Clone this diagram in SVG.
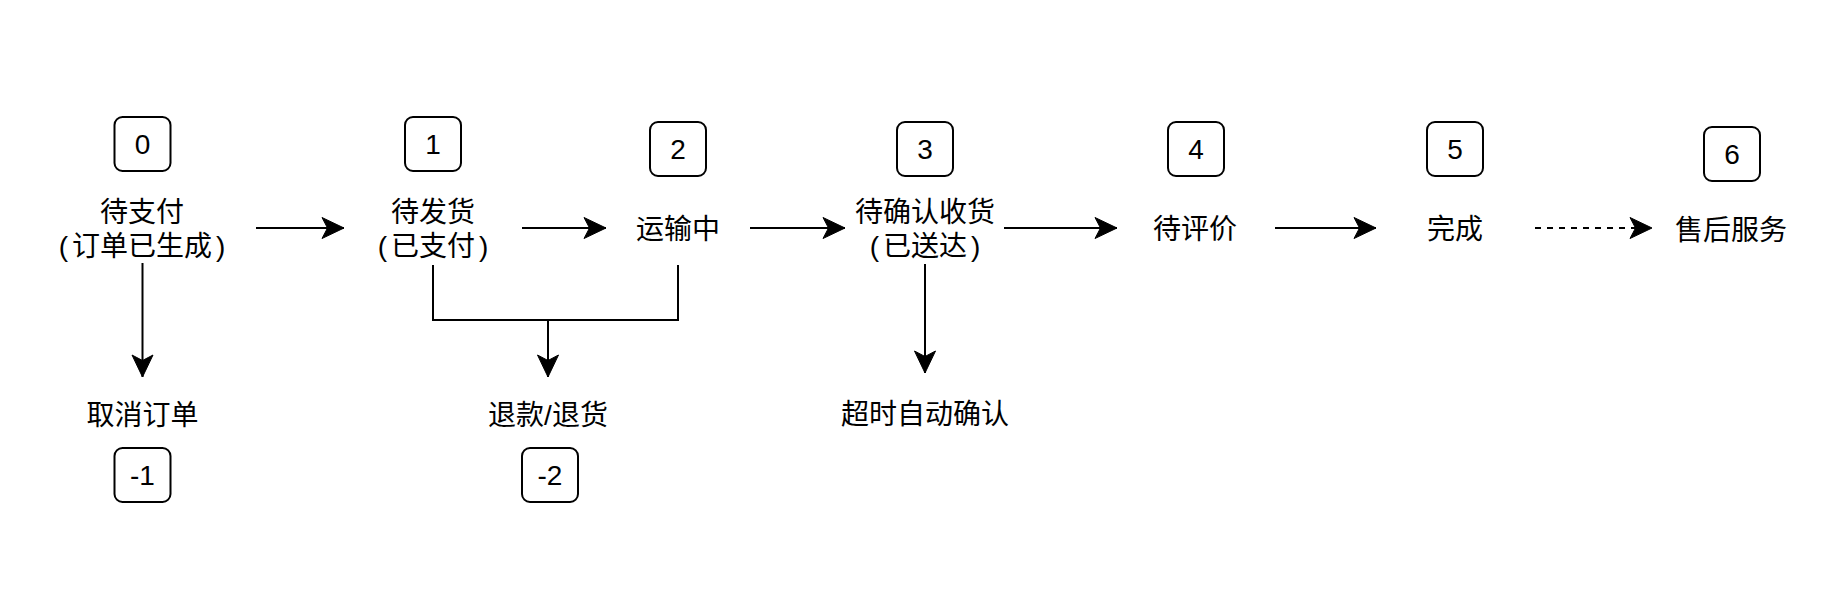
<svg xmlns="http://www.w3.org/2000/svg" width="1832" height="600" viewBox="0 0 1832 600">
<style>
.bg{fill:#fff}
.box{fill:#fff;stroke:#000;stroke-width:2}
.num{font-family:"Liberation Sans","Noto Sans CJK SC",sans-serif;font-size:28px;fill:#000;text-anchor:middle}
.lbl{font-family:"Liberation Sans","Noto Sans CJK SC",sans-serif;font-size:28px;fill:#000;text-anchor:middle}
.edge{fill:none;stroke:#000;stroke-width:2}
.dash{stroke-dasharray:6 6}
</style>
<defs>
<marker id="arr" markerUnits="userSpaceOnUse" markerWidth="26" markerHeight="24" viewBox="-23 -12 24 24" refX="0" refY="0" orient="auto">
<path d="M0,0 L-22,-10.5 L-16.5,0 L-22,10.5 Z" fill="#000" stroke="#000" stroke-width="1"/>
</marker>
</defs>
<rect class="bg" x="0" y="0" width="1832" height="600"/>
<g id="connectors">
<line class="edge" x1="256" y1="228" x2="344" y2="228" marker-end="url(#arr)"/>
<line class="edge" x1="522" y1="228" x2="606" y2="228" marker-end="url(#arr)"/>
<line class="edge" x1="750" y1="228" x2="845" y2="228" marker-end="url(#arr)"/>
<line class="edge" x1="1004" y1="228" x2="1117" y2="228" marker-end="url(#arr)"/>
<line class="edge" x1="1275" y1="228" x2="1376" y2="228" marker-end="url(#arr)"/>
<line class="edge dash" x1="1535" y1="228" x2="1652" y2="228" marker-end="url(#arr)"/>
<line class="edge" x1="142.5" y1="263" x2="142.5" y2="377" marker-end="url(#arr)"/>
<polyline class="edge" points="433,265 433,320 678,320 678,265"/>
<line class="edge" x1="548" y1="320" x2="548" y2="377" marker-end="url(#arr)"/>
<line class="edge" x1="925" y1="264" x2="925" y2="373" marker-end="url(#arr)"/>
</g>
<g id="n0">
<rect class="box" x="114.5" y="117" width="56" height="54" rx="8"/>
<text class="num" x="142.5" y="154">0</text>
<text class="lbl" x="142" y="222">待支付<tspan x="142" y="256">(</tspan><tspan dx="4">订单已生成</tspan><tspan dx="4">)</tspan></text>
</g>
<g id="n1">
<rect class="box" x="405" y="117" width="56" height="54" rx="8"/>
<text class="num" x="433" y="154">1</text>
<text class="lbl" x="433" y="222">待发货<tspan x="433" y="256">(</tspan><tspan dx="4">已支付</tspan><tspan dx="4">)</tspan></text>
</g>
<g id="n2">
<rect class="box" x="650" y="122" width="56" height="54" rx="8"/>
<text class="num" x="678" y="159">2</text>
<text class="lbl" x="678" y="238.5">运输中</text>
</g>
<g id="n3">
<rect class="box" x="897" y="122" width="56" height="54" rx="8"/>
<text class="num" x="925" y="159">3</text>
<text class="lbl" x="925" y="222">待确认收货<tspan x="925" y="256">(</tspan><tspan dx="4">已送达</tspan><tspan dx="4">)</tspan></text>
</g>
<g id="n4">
<rect class="box" x="1168" y="122" width="56" height="54" rx="8"/>
<text class="num" x="1196" y="159">4</text>
<text class="lbl" x="1195" y="238.5">待评价</text>
</g>
<g id="n5">
<rect class="box" x="1427" y="122" width="56" height="54" rx="8"/>
<text class="num" x="1455" y="159">5</text>
<text class="lbl" x="1455" y="238.5">完成</text>
</g>
<g id="n6">
<rect class="box" x="1704" y="127" width="56" height="54" rx="8"/>
<text class="num" x="1732" y="164">6</text>
<text class="lbl" x="1731" y="239.5">售后服务</text>
</g>
<g id="n-1">
<text class="lbl" x="142.5" y="425">取消订单</text>
<rect class="box" x="114.5" y="448" width="56" height="54" rx="8"/>
<text class="num" x="142.5" y="485">-1</text>
</g>
<g id="n-2">
<text class="lbl" x="548" y="425">退款/退货</text>
<rect class="box" x="522" y="448" width="56" height="54" rx="8"/>
<text class="num" x="550" y="485">-2</text>
</g>
<g id="n-timeout">
<text class="lbl" x="925" y="424">超时自动确认</text>
</g>
</svg>
